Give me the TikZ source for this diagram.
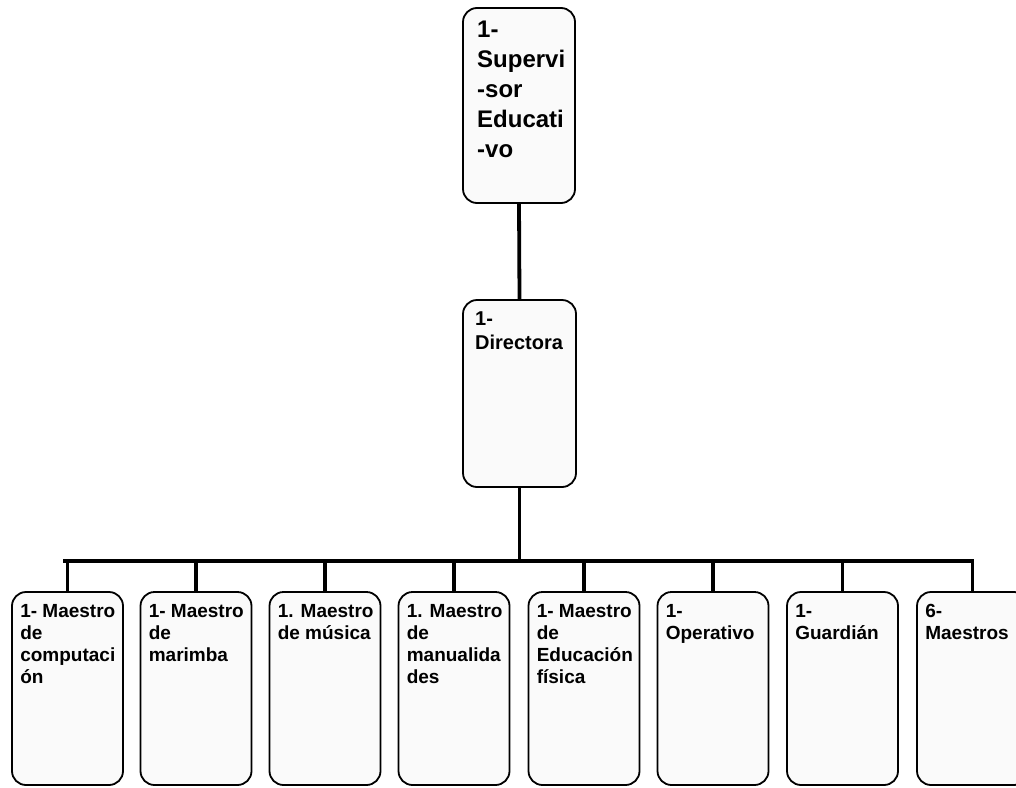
\documentclass[tikz,border=0pt]{standalone}
\usepackage{fontspec}
\setmainfont{Liberation Sans}
\definecolor{boxfill}{RGB}{250,250,250}
\begin{document}
\begin{tikzpicture}[x=1pt,y=-1pt,
  box/.style={draw=black, line width=1.8pt, rounded corners=14pt, fill=boxfill, inner sep=0pt},
  topbox/.style={box, minimum width=112pt, minimum height=195pt},
  midbox/.style={box, minimum width=113pt, minimum height=187pt},
  lowbox/.style={box, minimum width=111pt, minimum height=193pt},
  lbl/.style={anchor=north west, inner sep=0pt, align=left},
  toplbl/.style={lbl, font=\fontsize{24}{30}\selectfont\bfseries},
  midlbl/.style={lbl, font=\fontsize{20}{24}\selectfont\bfseries},
  lowlbl/.style={lbl, font=\fontsize{19}{22}\selectfont\bfseries},
  conn/.style={line width=3.8pt}]
\useasboundingbox (0,0) rectangle (1016,787);
\fill[white] (0,0) rectangle (1016,787);

% boxes
\node[topbox] (sup) at (519,105.5) {};
\node[midbox] (dir) at (519.5,393.5) {};
\node[lowbox] (b1) at (67.5,688.5) {};
\node[lowbox] (b2) at (196,688.5) {};
\node[lowbox] (b3) at (325,688.5) {};
\node[lowbox] (b4) at (454,688.5) {};
\node[lowbox] (b5) at (584,688.5) {};
\node[lowbox] (b6) at (713,688.5) {};
\node[lowbox] (b7) at (842.5,688.5) {};
\node[lowbox] (b8) at (972.5,688.5) {};

% labels
\node[toplbl] (tsup) at (477,21) {1-\\Supervi\\-sor\\Educati\\-vo};
\node[midlbl] (tdir) at (475,312) {1-\\Directora};
\node[lowlbl] (t1) at ([xshift=9pt]b1.west |- 0,604) {1- Maestro\\de\\computaci\\ón};
\node[lowlbl] (t2) at ([xshift=9pt]b2.west |- 0,604) {1- Maestro\\de\\marimba};
\node[lowlbl] (t3) at ([xshift=9pt]b3.west |- 0,604) {1. Maestro\\de música};
\node[lowlbl] (t4) at ([xshift=9pt]b4.west |- 0,604) {1. Maestro\\de\\manualida\\des};
\node[lowlbl] (t5) at ([xshift=9pt]b5.west |- 0,604) {1- Maestro\\de\\Educación\\física};
\node[lowlbl] (t6) at ([xshift=9pt]b6.west |- 0,604) {1-\\Operativo};
\node[lowlbl] (t7) at ([xshift=9pt]b7.west |- 0,604) {1-\\Guardián};
\node[lowlbl] (t8) at ([xshift=9pt]b8.west |- 0,604) {6-\\Maestros};

% connectors
\coordinate (barL) at (65,561);
\coordinate (barR) at (972.5,561);
\draw[conn] (sup.south) -- (dir.north);
\draw[conn] (dir.south) -- (dir.south |- barL);
\draw[conn, line cap=rect] (barL) -- (barR);
\foreach \b in {b1,b2,b3,b4,b5,b6,b7,b8}{
  \draw[conn] (\b.north) -- (\b.north |- barL);
}
\end{tikzpicture}
\end{document}
